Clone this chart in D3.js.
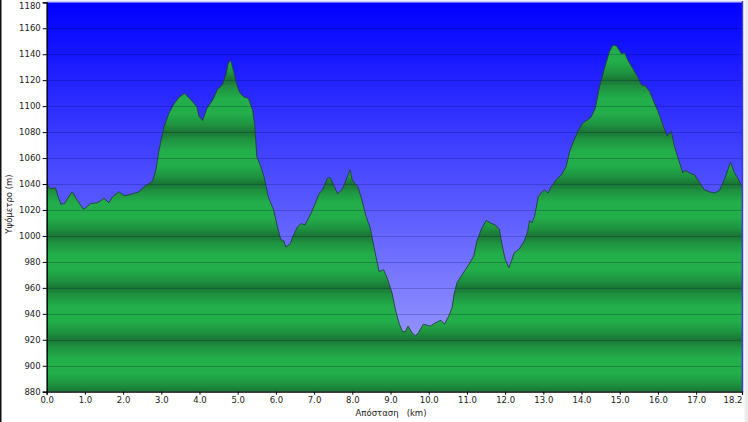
<!DOCTYPE html>
<html>
<head>
<meta charset="utf-8">
<script src="https://cdn.jsdelivr.net/npm/d3@7/dist/d3.min.js"></script>
<style>
  html, body { margin: 0; padding: 0; background: #ffffff; }
  svg { display: block; }
</style>
</head>
<body>
<svg id="chart" width="748" height="422"></svg>
<script>
const distanceKm = [0.00,0.09,0.23,0.30,0.37,0.47,0.57,0.67,0.80,0.96,1.06,1.15,1.33,1.50,1.63,1.72,1.89,2.03,2.20,2.42,2.55,2.77,2.86,2.94,3.07,3.20,3.34,3.47,3.61,3.77,3.93,3.99,4.08,4.19,4.34,4.47,4.60,4.69,4.75,4.82,4.91,4.98,5.06,5.17,5.28,5.39,5.45,5.50,5.59,5.69,5.80,5.94,6.04,6.13,6.20,6.26,6.38,6.44,6.57,6.66,6.76,6.92,7.05,7.14,7.22,7.35,7.42,7.53,7.61,7.74,7.87,7.94,8.00,8.14,8.23,8.36,8.47,8.57,8.70,8.82,8.92,9.04,9.13,9.22,9.31,9.38,9.46,9.56,9.65,9.73,9.86,10.04,10.17,10.32,10.41,10.52,10.61,10.67,10.74,10.87,11.05,11.18,11.26,11.39,11.51,11.61,11.74,11.85,11.91,12.00,12.10,12.24,12.37,12.50,12.59,12.64,12.70,12.77,12.87,12.94,13.03,13.12,13.20,13.34,13.47,13.60,13.68,13.77,13.90,14.03,14.16,14.25,14.36,14.47,14.60,14.73,14.82,14.91,15.04,15.13,15.21,15.34,15.46,15.56,15.67,15.78,15.87,16.00,16.13,16.24,16.35,16.43,16.57,16.65,16.71,16.83,16.96,17.09,17.22,17.35,17.48,17.61,17.74,17.83,17.90,17.99,18.09,18.20];
const elevationM = [1040,1036.5,1037,1030,1024.5,1025,1030,1034,1027.5,1020.5,1022.5,1025,1025.5,1029,1025.5,1030,1034,1031,1032,1034,1038,1042,1051,1066,1084,1094.5,1102,1107,1110,1105,1099.5,1092,1089,1098,1104.5,1113,1116.5,1124,1133,1135,1125,1116,1110,1107,1106,1097,1084,1061,1054.5,1045.5,1030,1020,1007,997,996.5,991.5,994,999.5,1007,1009.5,1008.5,1017.5,1026.5,1033,1035.5,1044.5,1045,1038,1032.5,1036,1045.5,1051,1043,1038,1030,1015,1006,991,972.5,974,967,956,943,933,926.5,926,930.5,925.5,923,925.5,932,930.5,933,935,932,938,944.5,956,964,970,978,984.5,996,1006,1012,1010,1008.5,1005,994.5,982,975.5,987,990,996,1003.5,1012,1010,1015,1030.5,1033,1035.5,1033,1037.5,1043.5,1047,1053.5,1064,1071.5,1080.5,1087,1089.5,1091.5,1098.5,1115,1129,1142,1147,1146.5,1140.5,1141,1135.5,1129,1123,1116.5,1115.5,1111.5,1105,1096,1085.5,1077,1080.5,1069,1056,1048.5,1050.5,1048.5,1047,1041,1035.5,1034,1033,1035,1043.5,1051,1056.5,1049.5,1044.5,1038];
const xTickValues = [0,1,2,3,4,5,6,7,8,9,10,11,12,13,14,15,16,17,18.2];
const yTickValues = [880,900,920,940,960,980,1000,1020,1040,1060,1080,1100,1120,1140,1160,1180];
const xTitle = "Απόσταση   (km)";
const yTitle = "Υψόμετρο (m)";

(function () {
const data = distanceKm.map((d, i) => ({ d, e: elevationM[i] }));
const svg = d3.select("#chart");
const pL = 46.7, pR = 742, pT = 2.3, pB = 391.7;
const x = d3.scaleLinear().domain([0, 18.2]).range([pL, pR]);
const y = d3.scaleLinear().domain([880, 1180]).range([pB, pT]);

svg.append("rect").attr("x", 0).attr("y", 0).attr("width", 1.5).attr("height", 422).attr("fill", "#111");
svg.append("rect").attr("x", 744.5).attr("y", 0).attr("width", 3.5).attr("height", 422).attr("fill", "#ececec");

const defs = svg.append("defs");
const sky = defs.append("linearGradient").attr("id", "sky")
  .attr("gradientUnits", "userSpaceOnUse").attr("x1", 0).attr("x2", 0)
  .attr("y1", pT).attr("y2", pB);
sky.append("stop").attr("offset", 0).attr("stop-color", "#0000ff");
sky.append("stop").attr("offset", 1).attr("stop-color", "#aaaaff");

const band = defs.append("linearGradient").attr("id", "band")
  .attr("gradientUnits", "userSpaceOnUse").attr("spreadMethod", "repeat")
  .attr("x1", 0).attr("x2", 0).attr("y1", y(1000)).attr("y2", y(960));
[[0, "#1a7535"], [0.15, "#1e9440"], [0.35, "#23ad4b"], [0.65, "#23ad4b"], [0.85, "#1e9440"], [1, "#1a7535"]]
  .forEach(([o, c]) => band.append("stop").attr("offset", o).attr("stop-color", c));

svg.append("rect").attr("x", pL).attr("y", pT).attr("width", pR - pL).attr("height", pB - pT)
  .attr("fill", "url(#sky)");

const area = d3.area().x(p => x(p.d)).y0(y(880)).y1(p => y(p.e));
const line = d3.line().x(p => x(p.d)).y(p => y(p.e));
svg.append("path").datum(data).attr("d", area).attr("fill", "url(#band)");

svg.append("g").selectAll("line").data(yTickValues.filter(v => v > 880 && v < 1180)).join("line")
  .attr("x1", pL).attr("x2", pR).attr("y1", v => Math.round(y(v)) + 0.5).attr("y2", v => Math.round(y(v)) + 0.5)
  .attr("stroke", "rgba(0,0,50,0.2)").attr("stroke-width", 1);

svg.append("path").datum(data).attr("d", line).attr("fill", "none")
  .attr("stroke", "#24403a").attr("stroke-width", 0.9);

svg.append("line").attr("x1", pL).attr("x2", pR + 1).attr("y1", 1.5).attr("y2", 1.5)
  .attr("stroke", "#c4c4ff").attr("stroke-width", 1.5);
svg.append("line").attr("x1", pR + 0.5).attr("x2", pR + 0.5).attr("y1", 1).attr("y2", pB)
  .attr("stroke", "#3a3ad8").attr("stroke-width", 1.5);

const font = "'DejaVu Sans', Verdana, sans-serif";
const yAxis = svg.append("g").attr("transform", `translate(${pL},0)`)
  .call(d3.axisLeft(y).tickValues(yTickValues).tickSize(4).tickPadding(2).tickFormat(d3.format("d")));
const xAxis = svg.append("g").attr("transform", `translate(0,${pB})`)
  .call(d3.axisBottom(x).tickValues(xTickValues).tickSize(3).tickPadding(2).tickFormat(d3.format(".1f")));
[yAxis, xAxis].forEach(g => {
  g.select(".domain").attr("stroke", "#000").attr("stroke-width", 1.3);
  g.selectAll(".tick line").attr("stroke", "#000");
  g.selectAll("text").attr("fill", "#222").style("font-family", font).style("font-size", "8.5px");
});
yAxis.selectAll(".tick text").filter(d => d === 1180).attr("dy", "0.32em").attr("y", 3.5);
xAxis.selectAll(".tick text").filter(d => d === 18.2).attr("text-anchor", "end").attr("dx", "0");

svg.append("text").attr("x", 391).attr("y", 416).attr("text-anchor", "middle")
  .style("font-family", font).style("font-size", "8.5px").attr("fill", "#222")
  .attr("xml:space", "preserve").style("white-space", "pre").text(xTitle);
svg.append("text").attr("transform", "translate(12,204) rotate(-90)").attr("text-anchor", "middle")
  .style("font-family", font).style("font-size", "8.5px").attr("fill", "#222").text(yTitle);
})();
</script>
</body>
</html>
